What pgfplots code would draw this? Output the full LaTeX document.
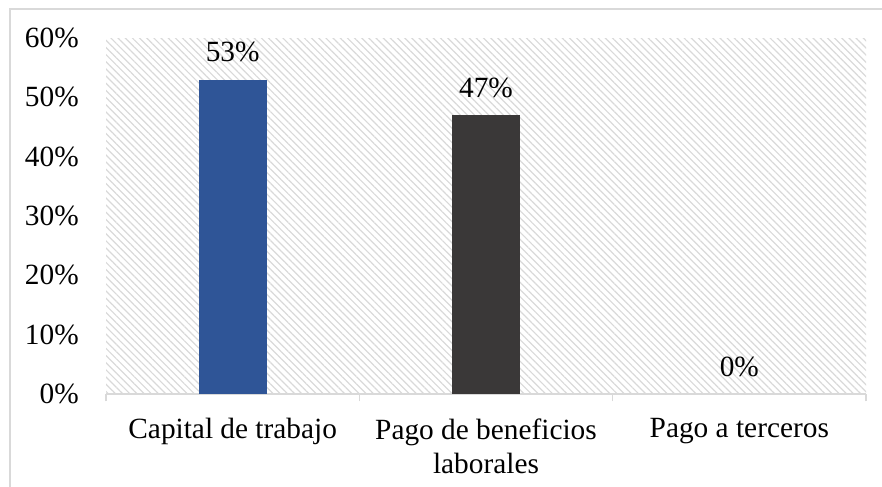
\documentclass[border=0pt]{standalone}
\usepackage{fontspec}
\setmainfont{Liberation Serif}
\usepackage{pgfplots}
\pgfplotsset{compat=1.18}
\usetikzlibrary{patterns.meta}
\definecolor{barblue}{HTML}{2F5597}
\definecolor{bardark}{HTML}{3A3838}
\definecolor{lgray}{HTML}{D9D9D9}
\begin{document}
\begin{tikzpicture}
\begin{axis}[
  at={(79.5pt,-295.5pt)}, anchor=south west,
  scale only axis, width=570pt, height=267pt,
  xmin=-0.5, xmax=2.5, ymin=0, ymax=60,
  ybar, bar width=51pt,
  axis x line*=bottom, axis y line*=left,
  y axis line style={draw=none},
  x axis line style={draw=lgray, line width=1.1pt},
  axis background/.style={pattern={Lines[angle=-45,distance=3.8pt,line width=0.9pt]}, pattern color=lgray},
  xtick={0,1,2},
  xticklabels={Capital de trabajo, Pago de beneficios\\laborales, Pago a terceros},
  xticklabel style={align=center, anchor=north, inner sep=0pt, yshift=-14pt, font=\fontsize{22}{26}\selectfont},
  major x tick style={draw=none},
  minor xtick={-0.5,0.5,1.5,2.5},
  minor x tick style={draw=lgray, line width=1.1pt},
  minor tick length=5.5pt,
  tick align=outside,
  ytick={0,10,20,30,40,50,60},
  yticklabels={0\%,10\%,20\%,30\%,40\%,50\%,60\%},
  major y tick style={draw=none},
  yticklabel style={anchor=east, inner sep=0pt, xshift=-16pt, font=\fontsize{22}{24}\selectfont},
  /pgf/number format/assume math mode=true,
  nodes near coords={\pgfmathprintnumber{\pgfplotspointmeta}\%},
  nodes near coords style={anchor=south, inner sep=0pt, yshift=13pt, font=\fontsize{22}{24}\selectfont, text=black},
  bar shift=0pt,
]
\addplot[fill=barblue, draw=none] coordinates {(0,53)};
\addplot[fill=bardark, draw=none] coordinates {(1,47)};
\addplot[fill=none, draw=none] coordinates {(2,0)};
\end{axis}
\draw[lgray, line width=1.2pt] (7.5pt,-400pt) -- (7.5pt,-6.75pt) -- (700pt,-6.75pt);
\pgfresetboundingbox
\path[use as bounding box] (0,0) rectangle (661.5pt,-364.5pt);
\end{tikzpicture}
\end{document}
